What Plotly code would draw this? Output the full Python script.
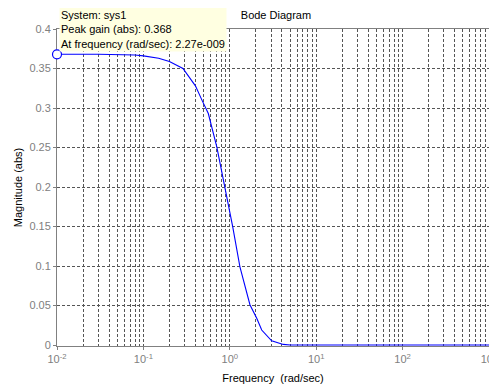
import plotly.graph_objects as go

# Frequency (rad/sec) and magnitude (abs)
freq = [0.01, 0.03, 0.08, 0.1, 0.15, 0.2, 0.287, 0.4, 0.476, 0.564, 0.706, 0.883,
        1.08, 1.31, 1.71, 2.05, 2.34, 3.05, 4.16, 5.0, 10.0, 100.0, 1000.0]
mag = [0.368, 0.368, 0.367, 0.366, 0.363, 0.359, 0.350, 0.328, 0.310, 0.293, 0.251, 0.200,
       0.150, 0.099, 0.051, 0.034, 0.019, 0.0054, 0.0008, 0.0, 0.0, 0.0, 0.0]

peak_freq = [0.01]
peak_mag = [0.368]

xtick_vals = [0.01, 0.1, 1, 10, 100, 1000]
xtick_text = ["10<sup>-2</sup>", "10<sup>-1</sup>", "10<sup>0</sup>", "10<sup>1</sup>",
              "10<sup>2</sup>", "10<sup>3</sup>"]
ytick_vals = [0, 0.05, 0.1, 0.15, 0.2, 0.25, 0.3, 0.35, 0.4]
ytick_text = ["0", "0.05", "0.1", "0.15", "0.2", "0.25", "0.3", "0.35", "0.4"]

FONT = "Liberation Sans, Arial"

fig = go.Figure()
fig.add_trace(go.Scatter(x=freq, y=mag, mode="lines",
                         line=dict(color="#0000ff", width=1.1), hoverinfo="skip"))
fig.add_trace(go.Scatter(x=peak_freq, y=peak_mag, mode="markers", cliponaxis=False,
                         marker=dict(symbol="circle", size=9, color="white",
                                     line=dict(color="#0000ff", width=1.2))))

grid_col = "#555555"
dash = "3px,2px"
fig.update_xaxes(type="log", range=[-2, 3], tickvals=xtick_vals, ticktext=xtick_text,
                 automargin=False, ticklabeloverflow="allow", layer="below traces",
                 showline=True, linecolor="#808080", linewidth=1, mirror=True,
                 showgrid=True, gridcolor=grid_col, griddash=dash, gridwidth=0.7,
                 ticks="outside", ticklen=3, tickcolor="#808080",
                 minor=dict(dtick="D1", showgrid=True, gridcolor=grid_col,
                            griddash=dash, gridwidth=0.7, ticks=""),
                 tickfont=dict(family=FONT, size=11, color="#808080"),
                 title=dict(text="Frequency  (rad/sec)", standoff=10,
                            font=dict(family=FONT, size=11, color="black")),
                 zeroline=False)
fig.update_yaxes(range=[-0.0012, 0.4], tickvals=ytick_vals, ticktext=ytick_text,
                 automargin=False, layer="below traces",
                 showline=True, linecolor="#808080", linewidth=1, mirror=True,
                 showgrid=True, gridcolor=grid_col, griddash=dash, gridwidth=0.7,
                 ticks="outside", ticklen=3, tickcolor="#808080",
                 tickfont=dict(family=FONT, size=11, color="#808080"),
                 title=dict(text="Magnitude (abs)", standoff=4,
                            font=dict(family=FONT, size=11, color="black")),
                 zeroline=False)

# page body has an 8px margin; figure sized so the plot lands where the reference has it
fig.update_layout(
    width=489, height=379,
    margin=dict(l=49, r=8, t=21, b=41, autoexpand=False),
    paper_bgcolor="white", plot_bgcolor="white",
    showlegend=False,
    title=dict(text="Bode Diagram", x=0.548, xanchor="center", y=0.982, yanchor="middle",
               font=dict(family=FONT, size=11, color="black")),
    annotations=[dict(
        xref="paper", yref="paper", x=0.005, y=1.07, xanchor="left", yanchor="top",
        align="left", showarrow=False, bgcolor="#ffffe1", borderpad=1,
        text="System: sys1<br>Peak gain (abs): 0.368<br>At frequency (rad/sec): 2.27e-009",
        font=dict(family=FONT, size=11, color="black"))],
)

fig.write_html("out.html")
